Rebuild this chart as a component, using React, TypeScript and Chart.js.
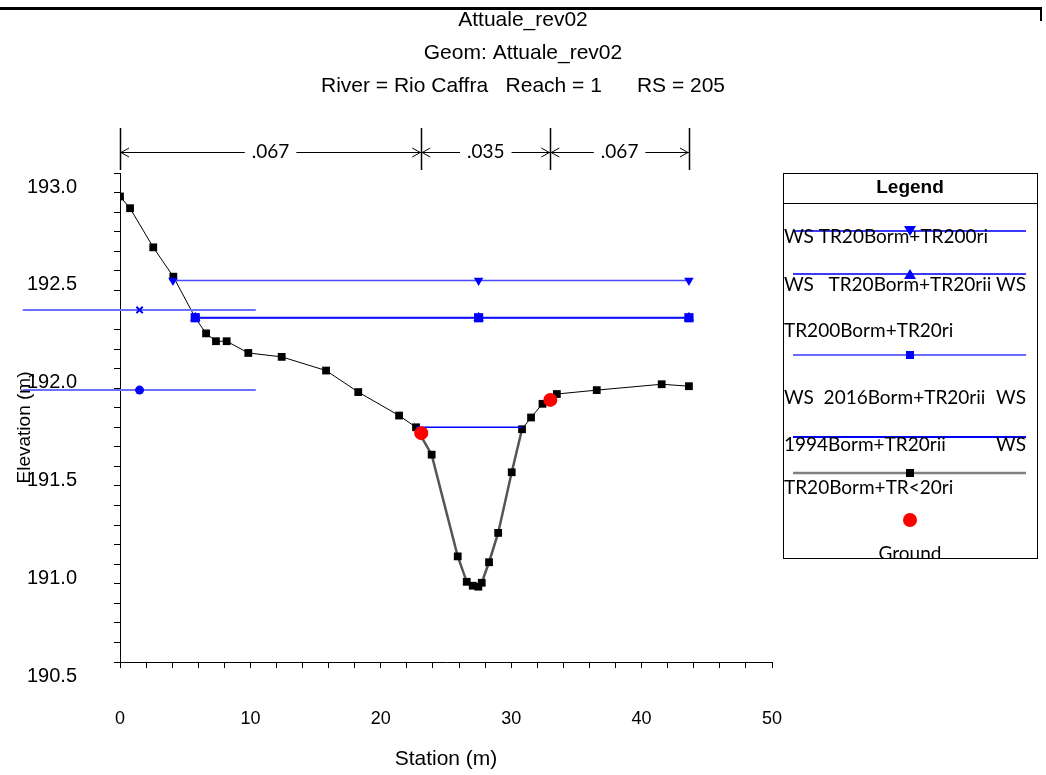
import React, { useEffect, useRef } from 'react';
import { Chart, registerables } from 'chart.js';

Chart.register(...registerables);

// ---------------- data ----------------
const chartTitle = 'Attuale_rev02';
const chartSubtitle = ['Geom: Attuale_rev02', 'River = Rio Caffra   Reach = 1      RS = 205'];
const xAxisTitle = 'Station (m)';
const yAxisTitle = 'Elevation (m)';

const groundStation = [0, 0.77, 2.55, 4.09, 5.77, 6.6, 7.36, 8.18, 9.84, 12.4, 15.8, 18.27, 21.4, 22.7, 23.9, 25.9, 26.59, 27.05, 27.48, 27.74, 28.3, 29.0, 30.04, 30.83, 31.52, 32.4, 33.5, 36.56, 41.54, 43.63];
const groundElevation = [192.88, 192.82, 192.62, 192.47, 192.26, 192.18, 192.14, 192.14, 192.08, 192.06, 191.99, 191.88, 191.76, 191.7, 191.56, 191.04, 190.91, 190.89, 190.885, 190.905, 191.01, 191.16, 191.47, 191.69, 191.75, 191.82, 191.87, 191.89, 191.92, 191.91];

const bankStation = [23.1, 33.0];
const bankElevation = [191.67, 191.84];

const wsTR200riStation = [4.06, 27.5, 43.63];
const wsTR200riElevation = [192.45, 192.45, 192.45];
const wsTR20riiStation = [5.77, 27.5, 43.63];
const wsTR20riiElevation = [192.26, 192.26, 192.26];
const wsTR200BormStation = [5.77, 27.5, 43.63];
const wsTR200BormElevation = [192.26, 192.26, 192.26];
const ws2016Station = [-7.46, 1.5, 10.41];
const ws2016Elevation = [192.3, 192.3, 192.3];
const ws1994Station = [22.7, 30.83];
const ws1994Elevation = [191.7, 191.7];
const wsTRlt20Station = [-7.46, 1.5, 10.41];
const wsTRlt20Elevation = [191.89, 191.89, 191.89];

const manningBreaks = [0, 23.1, 33.0, 43.63];
const manningValues = ['.067', '.035', '.067'];

const xMin = 0;
const xMax = 50;
const xStep = 2;
const xLabelStep = 10;
const yMin = 190.5;
const yMax = 193.0;
const yStep = 0.1;
const yLabelStep = 0.5;

// ---------------- helpers ----------------
const pts = (xs: number[], ys: number[]) => xs.map((x, i) => ({ x, y: ys[i] }));
const SANS = '"Liberation Sans", Arial, sans-serif';
const CAL = 'Lato, "Open Sans", sans-serif';

const yTitlePlugin = {
  id: 'yTitle',
  afterDraw(chart: any) {
    const ctx = chart.ctx;
    const a = chart.chartArea;
    ctx.save();
    ctx.translate(25, (a.top + a.bottom) / 2 + 10);
    ctx.rotate(-Math.PI / 2);
    ctx.fillStyle = '#000';
    ctx.font = `19px ${SANS}`;
    ctx.textAlign = 'center';
    ctx.textBaseline = 'middle';
    ctx.fillText(yAxisTitle, 0, 0);
    ctx.restore();
  },
};

const manningPlugin = {
  id: 'manningN',
  afterDraw(chart: any) {
    const ctx = chart.ctx;
    const xs = chart.scales.x;
    const top = chart.chartArea.top;
    const yA = top - 21;
    ctx.save();
    ctx.strokeStyle = '#000';
    ctx.fillStyle = '#000';
    ctx.lineWidth = 1.5;
    manningBreaks.forEach((b) => {
      const px = Math.round(xs.getPixelForValue(b)) + 0.5;
      ctx.beginPath();
      ctx.moveTo(px, top - 45);
      ctx.lineTo(px, top - 3);
      ctx.stroke();
    });
    ctx.lineWidth = 1;
    ctx.font = `19px ${CAL}`;
    ctx.textAlign = 'center';
    ctx.textBaseline = 'middle';
    for (let i = 0; i < manningValues.length; i++) {
      const x0 = xs.getPixelForValue(manningBreaks[i]);
      const x1 = xs.getPixelForValue(manningBreaks[i + 1]);
      const mid = (x0 + x1) / 2;
      const w = ctx.measureText(manningValues[i]).width;
      ctx.beginPath();
      ctx.moveTo(x0, yA + 0.5);
      ctx.lineTo(mid - w / 2 - 7, yA + 0.5);
      ctx.moveTo(mid + w / 2 + 7, yA + 0.5);
      ctx.lineTo(x1, yA + 0.5);
      ctx.moveTo(x0 + 9, yA - 4);
      ctx.lineTo(x0 + 1, yA + 0.5);
      ctx.lineTo(x0 + 9, yA + 5);
      ctx.moveTo(x1 - 9, yA - 4);
      ctx.lineTo(x1 - 1, yA + 0.5);
      ctx.lineTo(x1 - 9, yA + 5);
      ctx.stroke();
      ctx.fillText(manningValues[i], mid, yA);
    }
    ctx.restore();
  },
};

const legendPlugin = {
  id: 'hecLegend',
  afterDraw(chart: any) {
    const ctx = chart.ctx;
    const a = chart.chartArea;
    const L = a.right + 11;
    const T = a.top;
    const W = 254;
    const H = 385;
    const cx = L + 127;
    const lx0 = L + 10;
    const lx1 = L + 243;
    ctx.save();
    ctx.strokeStyle = '#000';
    ctx.lineWidth = 1;
    ctx.strokeRect(L + 0.5, T + 0.5, W, H);
    ctx.beginPath();
    ctx.moveTo(L, T + 30.5);
    ctx.lineTo(L + W, T + 30.5);
    ctx.stroke();
    ctx.fillStyle = '#000';
    ctx.font = `bold 19px ${SANS}`;
    ctx.textAlign = 'center';
    ctx.textBaseline = 'middle';
    ctx.fillText('Legend', cx, T + 15);

    ctx.beginPath();
    ctx.rect(L + 1, T + 31, W - 1, H - 31);
    ctx.clip();

    const hline = (y: number, color: string, w: number) => {
      ctx.strokeStyle = color;
      ctx.lineWidth = w;
      ctx.beginPath();
      ctx.moveTo(lx0, y);
      ctx.lineTo(lx1, y);
      ctx.stroke();
    };
    hline(T + 58, '#3a3aff', 2);
    ctx.fillStyle = '#0000ff';
    ctx.beginPath();
    ctx.moveTo(cx - 6, T + 53);
    ctx.lineTo(cx + 6, T + 53);
    ctx.lineTo(cx, T + 63);
    ctx.closePath();
    ctx.fill();
    hline(T + 101, '#3a3aff', 2);
    ctx.beginPath();
    ctx.moveTo(cx - 6, T + 106);
    ctx.lineTo(cx + 6, T + 106);
    ctx.lineTo(cx, T + 96);
    ctx.closePath();
    ctx.fill();
    hline(T + 182, '#6a6aff', 2);
    ctx.fillRect(cx - 4, T + 178, 8, 8);
    hline(T + 264, '#0000ff', 2);
    hline(T + 300, '#808080', 2.5);
    ctx.fillStyle = '#000';
    ctx.fillRect(cx - 4, T + 296, 8, 8);
    ctx.fillStyle = '#ff0000';
    ctx.beginPath();
    ctx.arc(cx, T + 347, 7, 0, Math.PI * 2);
    ctx.fill();

    ctx.fillStyle = '#000';
    ctx.font = `19px ${CAL}`;
    ctx.textBaseline = 'middle';
    const left = (t: string, y: number) => {
      ctx.textAlign = 'left';
      ctx.fillText(t, L + 1, T + y);
    };
    const right = (t: string, y: number) => {
      ctx.textAlign = 'right';
      ctx.fillText(t, lx1, T + y);
    };
    left('WS TR20Borm+TR200ri', 64);
    left('WS   TR20Borm+TR20rii', 112);
    right('WS', 112);
    left('TR200Borm+TR20ri', 158);
    left('WS  2016Borm+TR20rii', 225);
    right('WS', 225);
    left('1994Borm+TR20rii', 272);
    right('WS', 272);
    left('TR20Borm+TR<20ri', 315);
    ctx.textAlign = 'center';
    ctx.fillText('Ground', cx, T + 381);
    ctx.restore();
  },
};

export default function App() {
  const ref = useRef<HTMLCanvasElement | null>(null);

  useEffect(() => {
    document.body.style.margin = '0';
    const canvas = ref.current;
    if (!canvas) return;
    const channelLeft = ws1994Station[0];
    const channelRight = ws1994Station[ws1994Station.length - 1];
    const inChannel = (c: any) => c.p0.parsed.x >= channelLeft - 0.01 && c.p1.parsed.x <= channelRight + 0.01;

    const chart = new Chart(canvas, {
      type: 'scatter',
      data: {
        datasets: [
          {
            label: 'Bank Sta',
            data: pts(bankStation, bankElevation),
            showLine: false,
            pointStyle: 'circle',
            pointRadius: 7,
            backgroundColor: '#ff0000',
            borderColor: '#ff0000',
            borderWidth: 0,
          },
          {
            label: 'WS 1994Borm+TR20rii',
            data: pts(ws1994Station, ws1994Elevation),
            showLine: true,
            borderColor: '#0000ff',
            borderWidth: 1.5,
            pointRadius: 0,
          },
          {
            label: 'WS TR20Borm+TR200ri',
            data: pts(wsTR200riStation, wsTR200riElevation),
            showLine: true,
            borderColor: '#4a4aff',
            borderWidth: 1.5,
            pointStyle: 'triangle',
            rotation: 180,
            pointRadius: 5.5,
            backgroundColor: '#0000ff',
            pointBorderColor: '#0000ff',
            pointBorderWidth: 0,
          },
          {
            label: 'WS TR200Borm+TR20ri',
            data: pts(wsTR200BormStation, wsTR200BormElevation),
            showLine: true,
            borderColor: '#1010ff',
            borderWidth: 2,
            pointStyle: 'rect',
            pointRadius: 6.5,
            backgroundColor: '#0000ff',
            pointBorderColor: '#0000ff',
            pointBorderWidth: 0,
          },
          {
            label: 'WS TR20Borm+TR20rii',
            data: pts(wsTR20riiStation, wsTR20riiElevation),
            showLine: true,
            borderColor: '#3030ff',
            borderWidth: 1.5,
            pointStyle: 'triangle',
            pointRadius: 6,
            backgroundColor: '#0000ff',
            pointBorderColor: '#0000ff',
            pointBorderWidth: 0,
          },
          {
            label: 'WS 2016Borm+TR20rii',
            data: pts(ws2016Station, ws2016Elevation),
            showLine: true,
            clip: false,
            borderColor: '#6e6eff',
            borderWidth: 2,
            pointStyle: 'crossRot',
            pointRadius: [0, 4.5, 0],
            pointBorderColor: '#0000ff',
            pointBorderWidth: 2,
            backgroundColor: '#0000ff',
          },
          {
            label: 'WS TR20Borm+TR<20ri',
            data: pts(wsTRlt20Station, wsTRlt20Elevation),
            showLine: true,
            clip: false,
            borderColor: '#6e6eff',
            borderWidth: 2,
            pointStyle: 'circle',
            pointRadius: [0, 4.5, 0],
            backgroundColor: '#0000ff',
            pointBorderColor: '#0000ff',
            pointBorderWidth: 0,
          },
          {
            label: 'Ground',
            data: pts(groundStation, groundElevation),
            showLine: true,
            borderColor: '#000',
            borderWidth: 1,
            segment: {
              borderColor: (c: any) => (inChannel(c) ? '#555555' : '#000000'),
              borderWidth: (c: any) => (inChannel(c) ? 2.5 : 1),
            },
            pointStyle: 'rect',
            pointRadius: 5.5,
            backgroundColor: '#000',
            pointBorderColor: '#000',
            pointBorderWidth: 0,
          },
        ],
      },
      options: {
        animation: false,
        responsive: false,
        devicePixelRatio: 1,
        layout: { padding: { left: 0, right: 0, top: 0, bottom: 0 } },
        plugins: {
          legend: { display: false },
          tooltip: { enabled: false },
          title: {
            display: true,
            text: chartTitle,
            color: '#000',
            font: { family: SANS, size: 21, weight: 'normal', lineHeight: 1.2 },
            padding: { top: 7.4, bottom: 3.9 },
          },
          subtitle: {
            display: true,
            text: chartSubtitle,
            color: '#000',
            font: { family: SANS, size: 21, weight: 'normal', lineHeight: 33 / 21 },
            padding: { top: 0, bottom: 70.5 },
          },
        },
        scales: {
          x: {
            type: 'linear',
            position: 'bottom',
            min: xMin,
            max: xMax,
            border: { color: '#000', width: 1 },
            grid: { drawOnChartArea: false, color: '#000', tickLength: 6, tickWidth: 1 },
            ticks: {
              stepSize: xStep,
              autoSkip: false,
              maxRotation: 0,
              padding: 40,
              color: '#000',
              font: { family: SANS, size: 18 },
              callback: (v: any) => (Math.abs(v % xLabelStep) < 1e-6 ? String(v) : ''),
            },
            title: {
              display: true,
              text: xAxisTitle,
              color: '#000',
              font: { family: SANS, size: 21 },
              padding: { top: 0, bottom: 3 },
            },
            afterFit: (s: any) => {
              s.height = 113;
            },
          },
          y: {
            type: 'linear',
            position: 'left',
            min: yMin,
            max: yMax,
            border: { color: '#000', width: 1 },
            grid: { drawOnChartArea: false, color: '#000', tickLength: 6, tickWidth: 1 },
            ticks: {
              stepSize: yStep,
              autoSkip: false,
              padding: 37,
              labelOffset: 14,
              color: '#000',
              font: { family: SANS, size: 20 },
              callback: (v: any) => {
                const r = v / yLabelStep;
                return Math.abs(r - Math.round(r)) < 1e-6 ? Number(v).toFixed(1) : '';
              },
            },
            title: { display: false },
            afterFit: (s: any) => {
              s.width = 120;
            },
          },
          legendSpace: {
            type: 'linear',
            position: 'right',
            display: true,
            grid: { display: false },
            border: { display: false },
            ticks: { display: false },
            afterFit: (s: any) => {
              s.width = 274;
            },
          },
        },
      },
      plugins: [manningPlugin, legendPlugin, yTitlePlugin],
    } as any);
    return () => chart.destroy();
  }, []);

  return (
    <div style={{ position: 'relative', width: 1046, height: 775, background: '#fff' }}>
      <div style={{ position: 'absolute', left: 0, top: 7, width: 1042, height: 3, background: '#000' }} />
      <div style={{ position: 'absolute', left: 1040, top: 7, width: 2, height: 14, background: '#000' }} />
      <canvas ref={ref} width={1046} height={775} style={{ display: 'block' }} />
    </div>
  );
}
